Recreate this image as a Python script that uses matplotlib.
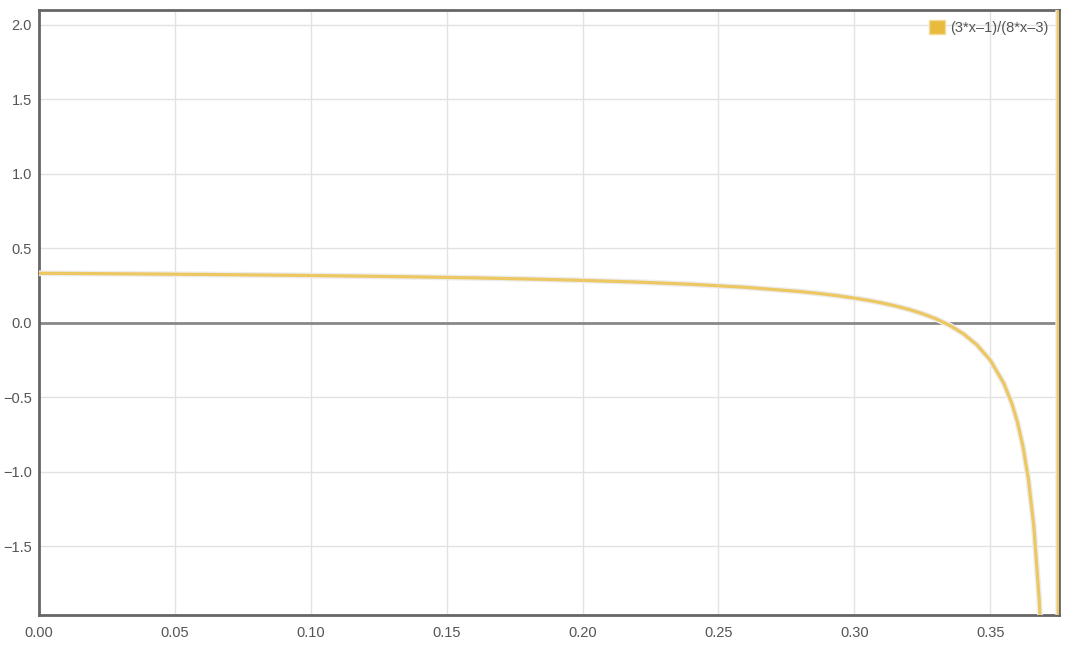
import matplotlib.pyplot as plt
import matplotlib.patheffects as pe
from matplotlib.patches import Patch

plt.rcParams["font.family"] = ["Liberation Sans", "DejaVu Sans"]

# points (3*x-1)/(8*x-3)
xs = [0.00, 0.02, 0.04, 0.06, 0.08, 0.10, 0.12, 0.14, 0.16, 0.18, 0.20, 0.22,
      0.24, 0.26, 0.28, 0.285, 0.29, 0.295, 0.30, 0.305, 0.31, 0.315, 0.32,
      0.325, 0.33, 0.335, 0.34, 0.345, 0.35, 0.355, 0.358, 0.36, 0.362, 0.364,
      0.366, 0.368, 0.369, 0.370, 0.372, 0.374, 0.3749, 0.3751]
ys = [0.3333, 0.3310, 0.3284, 0.3254, 0.3220, 0.3182, 0.3137, 0.3085, 0.3023,
      0.2949, 0.2857, 0.2742, 0.2593, 0.2391, 0.2105, 0.2014, 0.1912, 0.1797,
      0.1667, 0.1518, 0.1346, 0.1146, 0.0909, 0.0625, 0.0278, -0.0156, -0.0714,
      -0.1458, -0.25, -0.4063, -0.5441, -0.6667, -0.8269, -1.0455, -1.3611,
      -1.857, -2.229, -2.75, -4.833, -15.25, -155.9, 156.6]
etiketa = "(3*x\u20131)/(8*x\u20133)"
xtiki = [0.00, 0.05, 0.10, 0.15, 0.20, 0.25, 0.30, 0.35]
ytiki = [-1.5, -1.0, -0.5, 0.0, 0.5, 1.0, 1.5, 2.0]

barva = "#edc862"
siva = "#666666"

fig = plt.figure(figsize=(10.8, 6.45), dpi=100)
os_ = fig.add_axes([0.0361, 0.0465, 0.9445, 0.938])

os_.grid(True, color="#e2e2e2", linewidth=1)
os_.set_axisbelow(True)
os_.axhline(0, color="#888888", linewidth=2, zorder=2)

os_.plot(xs, ys, color=barva, linewidth=2.3, zorder=3,
         path_effects=[pe.Stroke(linewidth=4.2, foreground="#ececec"), pe.Normal()])

os_.set_xlim(0, 0.3753)
os_.set_ylim(-1.96, 2.1)
os_.set_xticks(xtiki)
os_.set_yticks(ytiki)
os_.xaxis.set_major_formatter(plt.FormatStrFormatter("%.2f"))
os_.yaxis.set_major_formatter(plt.FuncFormatter(lambda v, p: f"{v:.1f}".replace("-", "\u2212")))
os_.tick_params(length=0, labelsize=10.5, labelcolor="#555555", pad=5)
os_.tick_params(axis="x", pad=8)

for s in os_.spines.values():
    s.set_color(siva)
    s.set_linewidth(2)

os_.legend(handles=[Patch(facecolor="#e8bb3c", edgecolor="#f3dc9a", label=etiketa)],
           loc="upper right", frameon=False, fontsize=10.5, labelcolor="#555555",
           handlelength=1.1, handleheight=1.1, handletextpad=0.4,
           borderaxespad=0.3)

fig.savefig("out.png", dpi=100)
